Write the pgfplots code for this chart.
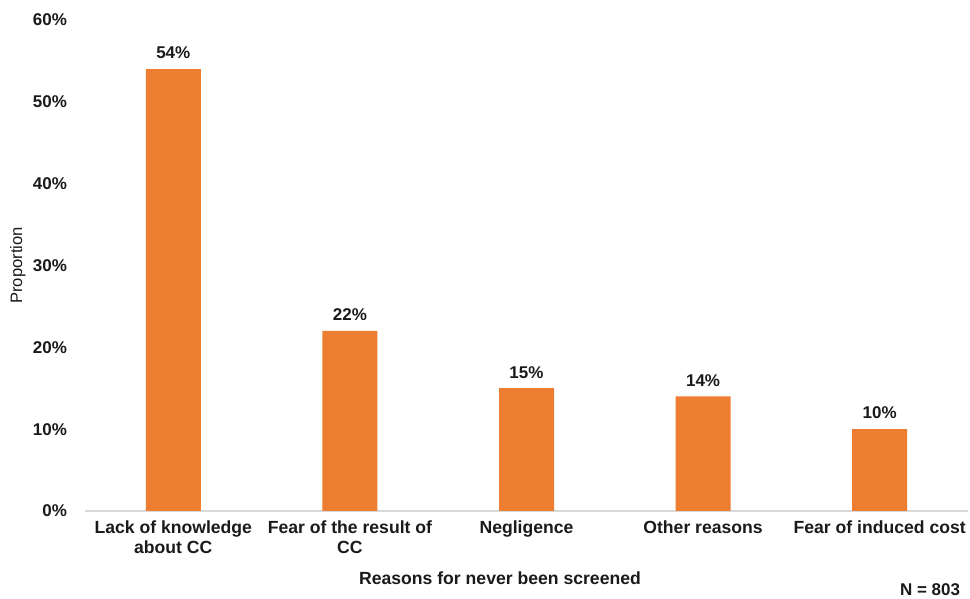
\documentclass[border=0pt]{standalone}
\usepackage{fontspec}
\setmainfont{Liberation Sans}
\usepackage{pgfplots}
\pgfplotsset{compat=1.18}
\definecolor{barorange}{HTML}{ED7D31}
\definecolor{axisgray}{HTML}{D9D9D9}
\definecolor{txt}{HTML}{1A1A1A}
\begin{document}
\begin{tikzpicture}
\useasboundingbox (-42.5pt,-44pt) rectangle (442.5pt,255.5pt);
\begin{axis}[
  at={(0,0)}, anchor=south west,
  scale only axis, width=441.5pt, height=245.5pt,
  xmin=-0.5, xmax=4.5, ymin=0, ymax=60,
  axis x line=bottom, axis y line=left,
  axis line style={-},
  x axis line style={draw=axisgray, line width=0.8pt},
  y axis line style={draw=none},
  major tick length=0pt,
  xtick={0,1,2,3,4},
  xticklabels={{Lack of knowledge\\about CC},{Fear of the result of\\CC},{Negligence},{Other reasons},{Fear of induced cost}},
  xticklabel style={align=center, font=\fontsize{8.8}{9.7}\selectfont\bfseries, text=txt, yshift=-1.5pt},
  ytick={0,10,20,30,40,50,60},
  yticklabel={\pgfmathprintnumber{\tick}\%},
  /pgf/number format/assume math mode=true,
  yticklabel style={font=\fontsize{8.5}{10}\selectfont\bfseries, text=txt, xshift=-5.5pt},
  ylabel={Proportion},
  ylabel style={at={(axis description cs:-0.076,0.5)}, anchor=center, font=\fontsize{8.3}{10}\selectfont, text=txt},
  xlabel={Reasons for never been screened},
  xlabel style={at={(axis description cs:0.47,-0.1365)}, anchor=center, font=\fontsize{8.8}{10}\selectfont\bfseries, text=txt},
  ybar, bar width=27.5pt,
  nodes near coords={\pgfmathprintnumber{\pgfplotspointmeta}\%},
  nodes near coords style={font=\fontsize{8.5}{10}\selectfont\bfseries, text=txt, yshift=1.5pt},
  clip=false,
]
\addplot[fill=barorange, draw=none] coordinates {(0,54) (1,22) (2,15) (3,14) (4,10)};
\node[anchor=east, font=\fontsize{8.5}{10}\selectfont\bfseries, text=txt] at (axis description cs:0.999,-0.161) {N = 803};
\end{axis}
\end{tikzpicture}
\end{document}
